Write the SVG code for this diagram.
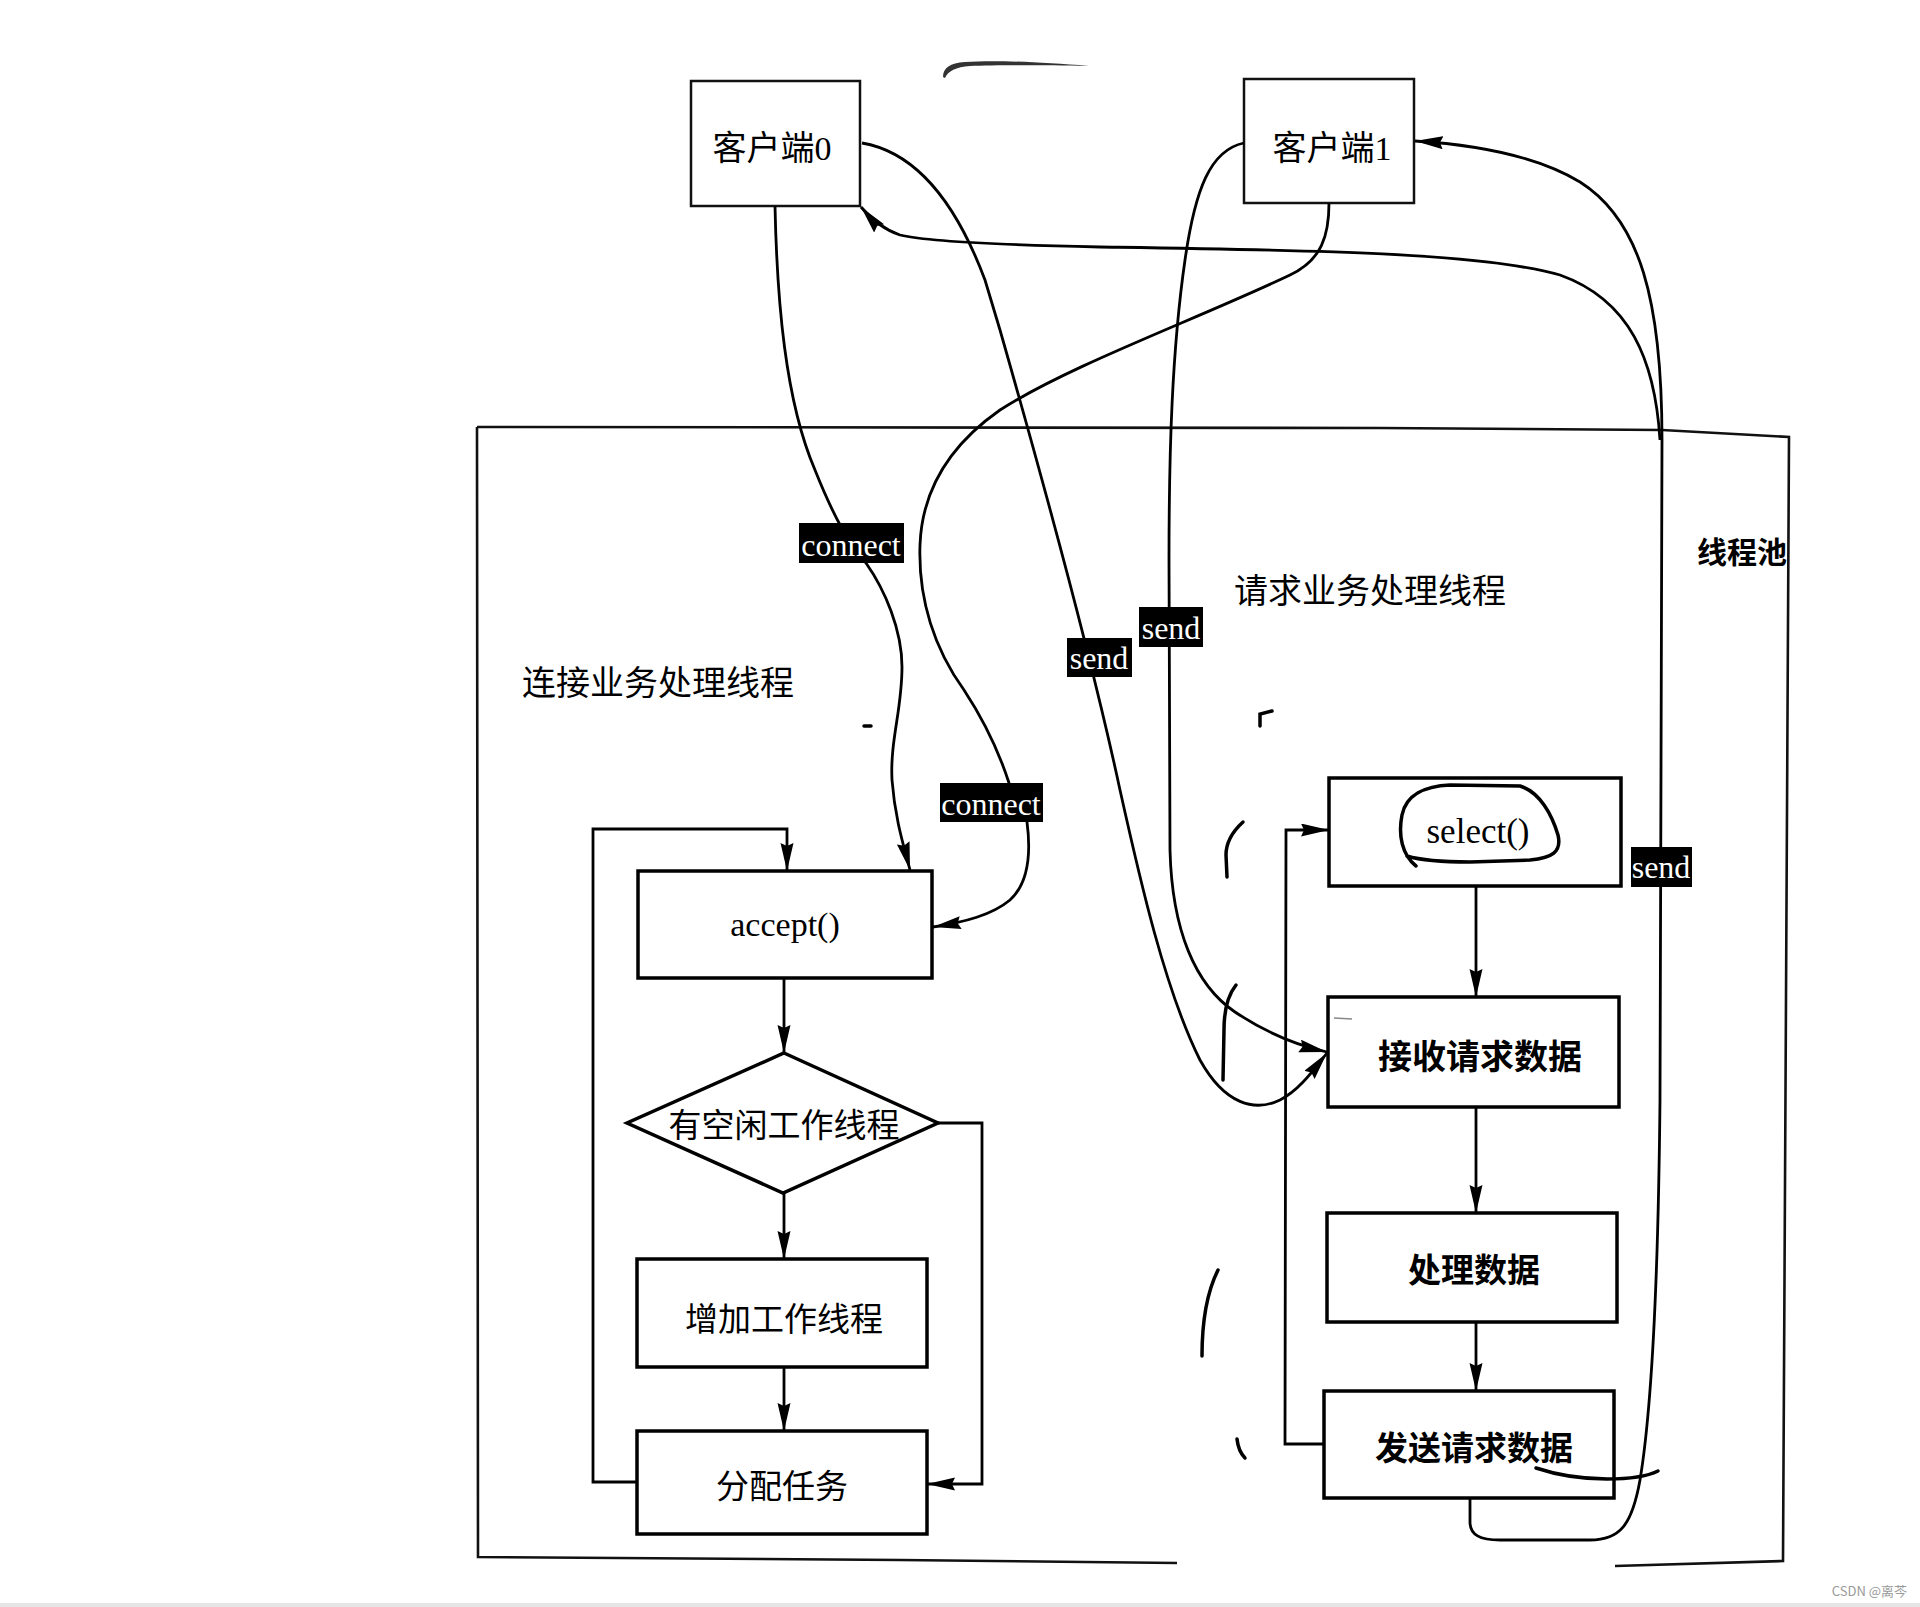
<svg xmlns="http://www.w3.org/2000/svg" width="1920" height="1607" viewBox="0 0 1920 1607">
<defs>
<marker id="ah" markerUnits="userSpaceOnUse" markerWidth="30" markerHeight="14" refX="28" refY="6.5" orient="auto"><path d="M0,0 L28,6.5 L0,13 L3,6.5 Z" fill="#000"/></marker>
<style>
.box{fill:#fff;stroke:#000;stroke-width:3.5}
.cbox{fill:#fff;stroke:#111;stroke-width:2.5}
.ln{fill:none;stroke:#000;stroke-width:2.8}
.fr{fill:none;stroke:#111;stroke-width:2.6}
.hand{fill:none;stroke:#000;stroke-width:3.5;stroke-linecap:round}
.cn{font-family:"Noto Sans CJK SC",sans-serif;fill:#000;text-anchor:middle;dominant-baseline:central}
.sf{font-family:"Liberation Serif","Noto Sans CJK SC",serif;fill:#000;text-anchor:middle}
.lbl{fill:#000}
.lt{font-family:"Liberation Serif",serif;font-size:32px;fill:#fff;text-anchor:middle}
</style>
</defs>
<rect x="0" y="0" width="1920" height="1607" fill="#fff"/>
<rect x="0" y="1603" width="1920" height="4" fill="#e6e6e6"/>

<g id="frame">
<path class="fr" d="M477,427 L1380,428 L1662,430 L1789,437 L1783,1561 L1615,1566"/>
<path class="fr" d="M477,427 L478,1557 L900,1560 L1177,1563"/>
<text class="cn" x="1742" y="550" font-size="30" font-weight="bold" fill="#222">线程池</text>
</g>

<g id="titles">
<text class="cn" x="658" y="680" font-size="34">连接业务处理线程</text>
<text class="cn" x="1370" y="588" font-size="34">请求业务处理线程</text>
</g>

<g id="client0">
<rect class="cbox" x="691" y="81" width="169" height="125"/>
<text class="sf" x="772" y="148" font-size="34" dominant-baseline="central">客户端0</text>
</g>
<g id="client1">
<rect class="cbox" x="1244" y="79" width="170" height="124"/>
<text class="sf" x="1332" y="148" font-size="34" dominant-baseline="central">客户端1</text>
</g>

<g id="accept">
<rect class="box" x="638" y="871" width="294" height="107"/>
<text class="sf" x="785" y="936" font-size="34">accept()</text>
</g>
<g id="decision">
<polygon class="box" points="784,1053 938,1123 783,1193 627,1123"/>
<text class="cn" x="784" y="1123" font-size="33">有空闲工作线程</text>
</g>
<g id="addthread">
<rect class="box" x="637" y="1259" width="290" height="108"/>
<text class="cn" x="784" y="1317" font-size="33">增加工作线程</text>
</g>
<g id="assign">
<rect class="box" x="637" y="1431" width="290" height="103"/>
<text class="cn" x="782" y="1484" font-size="33">分配任务</text>
</g>

<g id="select">
<rect class="box" x="1329" y="778" width="292" height="108"/>
<path class="hand" d="M1416,866 C1402,855 1398,835 1402,815 C1406,795 1425,786 1450,785 L1520,786 C1540,792 1552,815 1558,835 C1562,852 1552,858 1530,860 L1470,862 C1440,862 1420,860 1407,856"/>
<text class="sf" x="1478" y="843" font-size="35">select()</text>
</g>
<g id="recv">
<rect class="box" x="1328" y="997" width="291" height="110"/>
<text class="cn" x="1480" y="1054" font-size="34" font-weight="bold">接收请求数据</text>
</g>
<g id="process">
<rect class="box" x="1327" y="1213" width="290" height="109"/>
<text class="cn" x="1474" y="1268" font-size="33" font-weight="bold">处理数据</text>
</g>
<g id="sendreq">
<rect class="box" x="1324" y="1391" width="290" height="107"/>
<text class="cn" x="1474" y="1446" font-size="33" font-weight="bold">发送请求数据</text>
</g>

<g id="connectors">
<path class="ln" d="M784,978 L784,1053" marker-end="url(#ah)"/>
<path class="ln" d="M784,1193 L784,1259" marker-end="url(#ah)"/>
<path class="ln" d="M784,1367 L784,1431" marker-end="url(#ah)"/>
<path class="ln" d="M637,1482 L593,1482 L593,829 L787,829 L787,871" marker-end="url(#ah)"/>
<path class="ln" d="M938,1123 L982,1123 L982,1484 L927,1484" marker-end="url(#ah)"/>
<path class="ln" d="M1476,886 L1476,997" marker-end="url(#ah)"/>
<path class="ln" d="M1476,1107 L1476,1213" marker-end="url(#ah)"/>
<path class="ln" d="M1476,1322 L1476,1391" marker-end="url(#ah)"/>
<path class="ln" d="M1324,1444 L1285,1444 L1286,830 L1329,830" marker-end="url(#ah)"/>
<path class="ln" d="M775,206 C777,300 785,400 815,470 C835,520 850,545 866,563 C885,590 902,630 902,667 C902,710 890,740 892,780 C895,820 905,850 910,870" marker-end="url(#ah)"/>
<path class="ln" d="M1329,203 C1329,235 1322,260 1290,275 C1200,318 1070,365 1000,410 C950,445 922,490 920,545 C918,600 935,650 964,690 C985,722 1000,755 1009,783 L1027,822 C1030,845 1032,880 1010,900 C992,915 965,922 933,927" marker-end="url(#ah)"/>
<path class="ln" d="M862,143 C915,152 955,200 985,280 L1000,330 C1040,470 1090,650 1120,790 C1140,880 1165,990 1200,1060 C1225,1105 1255,1112 1280,1100 C1300,1090 1315,1068 1327,1053" marker-end="url(#ah)"/>
<path class="ln" d="M1244,143 C1210,150 1195,190 1185,260 C1172,350 1169,450 1169,560 L1170,850 C1172,930 1195,985 1235,1012 C1265,1032 1295,1045 1327,1052" marker-end="url(#ah)"/>
<path class="ln" d="M1470,1498 L1470,1522 C1470,1535 1480,1540 1500,1540 L1590,1540 C1620,1540 1632,1525 1640,1480 C1650,1420 1658,1300 1660,1100 L1662,440"/>
<path class="ln" d="M1662,440 C1662,300 1640,220 1580,182 C1540,158 1480,145 1415,141" marker-end="url(#ah)"/>
<path class="ln" d="M1660,440 C1655,360 1630,300 1560,275 C1480,252 1300,250 1100,247 C1000,245 930,242 900,235 C885,230 872,220 861,207" marker-end="url(#ah)"/>
</g>

<g id="labels">
<rect class="lbl" x="799" y="523" width="105" height="40"/>
<text class="lt" x="851" y="556">connect</text>
<rect class="lbl" x="940" y="783" width="103" height="39"/>
<text class="lt" x="991" y="815">connect</text>
<rect class="lbl" x="1067" y="638" width="65" height="39"/>
<text class="lt" x="1099" y="669">send</text>
<rect class="lbl" x="1139" y="607" width="64" height="40"/>
<text class="lt" x="1171" y="639">send</text>
<rect class="lbl" x="1631" y="847" width="61" height="40"/>
<text class="lt" x="1661" y="878">send</text>
</g>

<g id="marks">
<path d="M943,77 C943,68 950,63 965,62 C995,60 1040,62 1089,66 C1040,65 995,65 970,66 C956,67 948,71 945,78 Z" fill="#333"/>
<path class="hand" stroke-width="2" d="M864,726 L871,726"/>
<path class="hand" stroke-width="3" d="M1260,726 L1260,714 L1272,711"/>
<path class="hand" d="M1243,822 C1232,832 1226,842 1226,855 L1227,877"/>
<path class="hand" d="M1236,985 C1228,995 1224,1010 1224,1030 L1223,1080"/>
<path class="hand" d="M1218,1270 C1208,1290 1202,1315 1202,1356"/>
<path class="hand" d="M1237,1439 C1238,1448 1241,1454 1245,1458"/>
<path class="hand" d="M1536,1468 C1560,1476 1585,1479 1607,1479 C1630,1479 1648,1476 1658,1471"/>
<path d="M1334,1018 L1352,1019" stroke="#888" stroke-width="1.5"/>
</g>

<text x="1907" y="1596" font-family="'Noto Sans CJK SC',sans-serif" font-size="13" fill="#999" text-anchor="end">CSDN @离芩</text>
</svg>
